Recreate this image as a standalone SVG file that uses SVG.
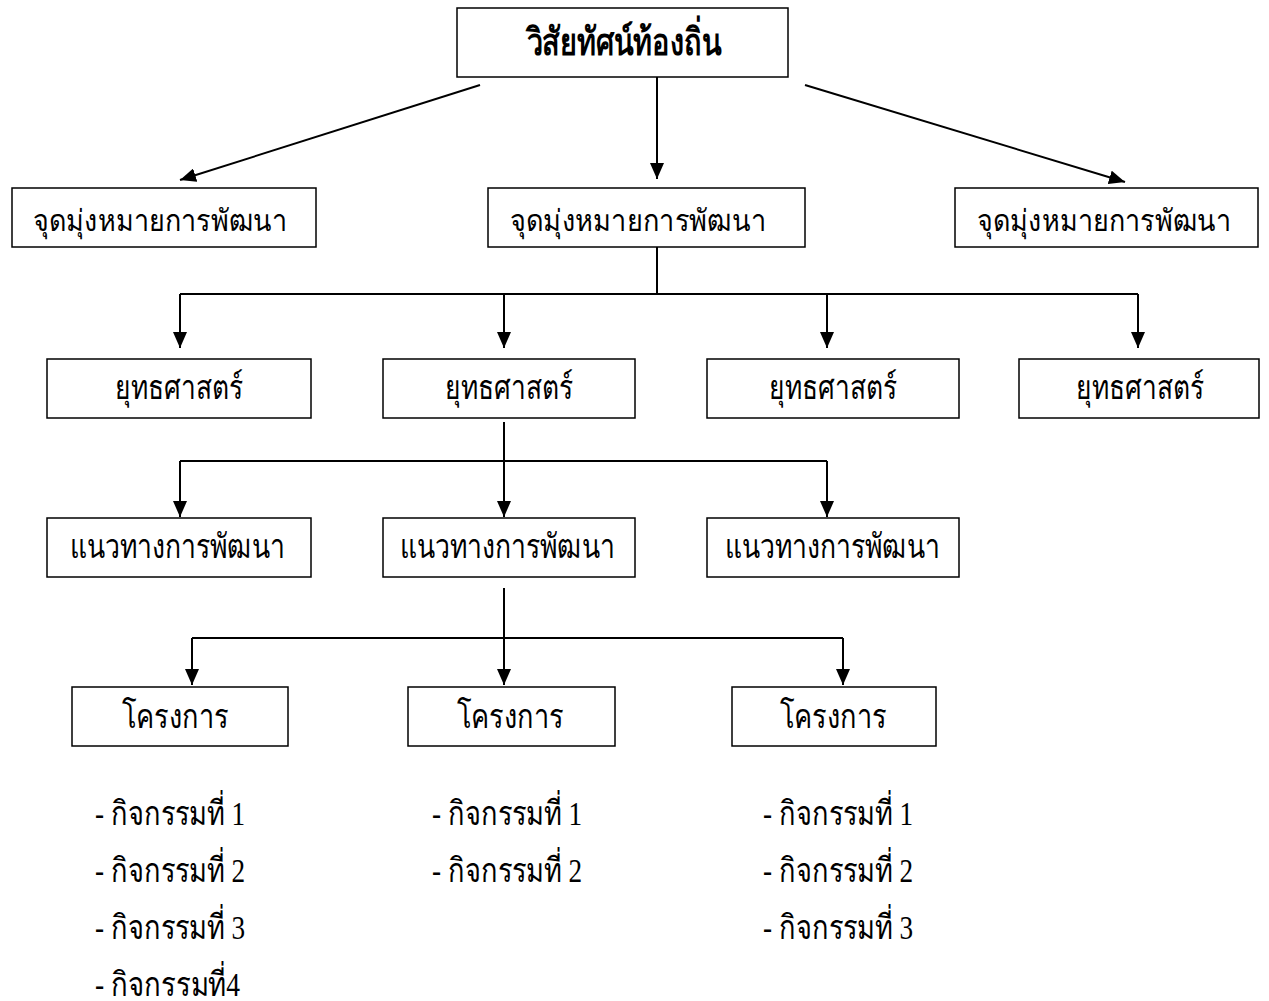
<svg xmlns="http://www.w3.org/2000/svg" width="1269" height="1001" viewBox="0 0 1269 1001">
<defs>
<marker id="ah" viewBox="0 0 16 14" refX="16" refY="7" markerWidth="16" markerHeight="14" orient="auto" markerUnits="userSpaceOnUse">
<path d="M0,0 L16,7 L0,14 z" fill="#000"/>
</marker>
<style>
.box{fill:#fff;stroke:#000;stroke-width:1.5}
.t{font-family:"Liberation Serif","DejaVu Serif",serif;font-size:34px;fill:#000;text-anchor:middle}
.g{font-size:30px}
.b{font-weight:bold;font-size:38px}
.a{font-family:"Liberation Serif","DejaVu Serif",serif;font-size:34px;fill:#000}
.c{fill:none;stroke:#000;stroke-width:2}
.ar{marker-end:url(#ah)}
</style>
</defs>
<rect width="1269" height="1001" fill="#fff"/>
<g id="connectors">
<path class="c ar" d="M480,85 L180,180"/>
<path class="c ar" d="M657,77 L657,179"/>
<path class="c ar" d="M805,85 L1125,182"/>
<path class="c" d="M657,247 L657,294 M180,294 L1138,294"/>
<path class="c ar" d="M180,294 L180,348"/>
<path class="c ar" d="M504,294 L504,348"/>
<path class="c ar" d="M827,294 L827,348"/>
<path class="c ar" d="M1138,294 L1138,348"/>
<path class="c" d="M180,461 L827,461"/>
<path class="c ar" d="M504,422 L504,517"/>
<path class="c ar" d="M180,461 L180,517"/>
<path class="c ar" d="M827,461 L827,517"/>
<path class="c" d="M192,638 L843,638"/>
<path class="c ar" d="M504,588 L504,685"/>
<path class="c ar" d="M192,638 L192,685"/>
<path class="c ar" d="M843,638 L843,685"/>
</g>
<g id="vision"><rect class="box" x="457" y="8" width="331" height="69"/><text class="t b" x="624" y="55" textLength="195" lengthAdjust="spacingAndGlyphs">วิสัยทัศน์ท้องถิ่น</text></g>
<g id="goal1"><rect class="box" x="12" y="188" width="304" height="59"/><text class="t g" x="160" y="231" textLength="254" lengthAdjust="spacingAndGlyphs">จุดมุ่งหมายการพัฒนา</text></g>
<g id="goal2"><rect class="box" x="488" y="188" width="317" height="59"/><text class="t g" x="638" y="231" textLength="256" lengthAdjust="spacingAndGlyphs">จุดมุ่งหมายการพัฒนา</text></g>
<g id="goal3"><rect class="box" x="955" y="188" width="303" height="59"/><text class="t g" x="1104" y="231" textLength="254" lengthAdjust="spacingAndGlyphs">จุดมุ่งหมายการพัฒนา</text></g>
<g id="strategy1"><rect class="box" x="47" y="359" width="264" height="59"/><text class="t" x="179" y="399" textLength="128" lengthAdjust="spacingAndGlyphs">ยุทธศาสตร์</text></g>
<g id="strategy2"><rect class="box" x="383" y="359" width="252" height="59"/><text class="t" x="509" y="399" textLength="128" lengthAdjust="spacingAndGlyphs">ยุทธศาสตร์</text></g>
<g id="strategy3"><rect class="box" x="707" y="359" width="252" height="59"/><text class="t" x="833" y="399" textLength="128" lengthAdjust="spacingAndGlyphs">ยุทธศาสตร์</text></g>
<g id="strategy4"><rect class="box" x="1019" y="359" width="240" height="59"/><text class="t" x="1140" y="399" textLength="128" lengthAdjust="spacingAndGlyphs">ยุทธศาสตร์</text></g>
<g id="guide1"><rect class="box" x="47" y="518" width="264" height="59"/><text class="t" x="177" y="558" textLength="215" lengthAdjust="spacingAndGlyphs">แนวทางการพัฒนา</text></g>
<g id="guide2"><rect class="box" x="383" y="518" width="252" height="59"/><text class="t" x="507" y="558" textLength="215" lengthAdjust="spacingAndGlyphs">แนวทางการพัฒนา</text></g>
<g id="guide3"><rect class="box" x="707" y="518" width="252" height="59"/><text class="t" x="832" y="558" textLength="215" lengthAdjust="spacingAndGlyphs">แนวทางการพัฒนา</text></g>
<g id="project1"><rect class="box" x="72" y="687" width="216" height="59"/><text class="t" x="175" y="728" textLength="107" lengthAdjust="spacingAndGlyphs">โครงการ</text></g>
<g id="project2"><rect class="box" x="408" y="687" width="207" height="59"/><text class="t" x="510" y="728" textLength="107" lengthAdjust="spacingAndGlyphs">โครงการ</text></g>
<g id="project3"><rect class="box" x="732" y="687" width="204" height="59"/><text class="t" x="833" y="728" textLength="107" lengthAdjust="spacingAndGlyphs">โครงการ</text></g>
<g id="activities1">
<text class="a" x="95" y="825" textLength="150" lengthAdjust="spacingAndGlyphs">- กิจกรรมที่ 1</text>
<text class="a" x="95" y="882" textLength="150" lengthAdjust="spacingAndGlyphs">- กิจกรรมที่ 2</text>
<text class="a" x="95" y="939" textLength="150" lengthAdjust="spacingAndGlyphs">- กิจกรรมที่ 3</text>
<text class="a" x="95" y="996" textLength="145" lengthAdjust="spacingAndGlyphs">- กิจกรรมที่4</text>
</g>
<g id="activities2">
<text class="a" x="432" y="825" textLength="150" lengthAdjust="spacingAndGlyphs">- กิจกรรมที่ 1</text>
<text class="a" x="432" y="882" textLength="150" lengthAdjust="spacingAndGlyphs">- กิจกรรมที่ 2</text>
</g>
<g id="activities3">
<text class="a" x="763" y="825" textLength="150" lengthAdjust="spacingAndGlyphs">- กิจกรรมที่ 1</text>
<text class="a" x="763" y="882" textLength="150" lengthAdjust="spacingAndGlyphs">- กิจกรรมที่ 2</text>
<text class="a" x="763" y="939" textLength="150" lengthAdjust="spacingAndGlyphs">- กิจกรรมที่ 3</text>
</g>
</svg>
